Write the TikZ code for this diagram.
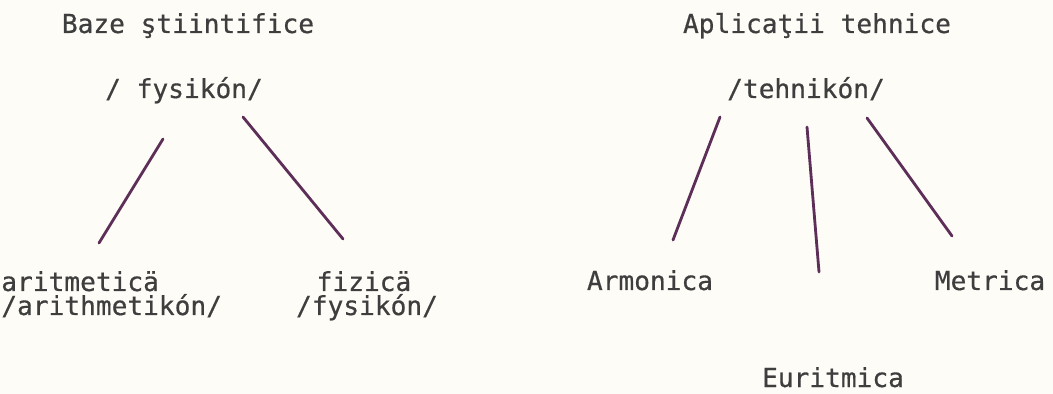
\documentclass[tikz,border=0pt]{standalone}
\usepackage{fontspec}
\usepackage{xcolor}
\usepackage{tikz}
\usetikzlibrary{positioning,calc}
\newfontfamily\typewfont[FakeBold=0.5]{DejaVu Sans Mono}
\definecolor{paper}{RGB}{253,252,247}
\definecolor{inkgray}{RGB}{62,62,62}
\definecolor{inkpurple}{RGB}{92,46,88}

\begin{document}
\begin{tikzpicture}[
    x=0.02cm, y=-0.02cm,
    word/.style={inner sep=0pt, anchor=base, text=inkgray, font=\typewfont\fontsize{14.9}{18}\selectfont},
    branch/.style={draw=inkpurple, line width=1.6pt, line cap=round},
]

% Background
\fill[paper] (0,0) rectangle (1053,394);
\useasboundingbox (0,0) rectangle (1053,394);

% Nodes
\node [word] (baze) at (188,33) {Baze ştiintifice};
\node [word] (fys) at (184,98) {/ fysikón/};
\node [word, anchor=base west] (arit) at (1,291) {aritmeticä};
\node [word, anchor=base west] (aritgr) at (1,315) {/arithmetikón/};
\node [word] (fiz) at (364,291) {fizicä};
\node [word] (fizgr) at (367,315) {/fysikón/};

\node [word] (apl) at (817,33) {Aplicaţii tehnice};
\node [word] (teh) at (806,98) {/tehnikón/};
\node [word] (arm) at (650,290) {Armonica};
\node [word] (met) at (990,290) {Metrica};
\node [word] (eur) at (833,387) {Euritmica};

% Arcs/Paths
\draw [branch] ([shift={(-21,41)}]fys.base) -- ([shift={(98,-48)}]arit.base west);
\draw [branch] ([shift={(59,19)}]fys.base) -- ([shift={(-21,-52)}]fiz.base);

\draw [branch] ([shift={(-86,19)}]teh.base) -- ([shift={(23,-50)}]arm.base);
\draw [branch] ([shift={(1,29)}]teh.base) -- ([shift={(-14,-115)}]eur.base);
\draw [branch] ([shift={(61,20)}]teh.base) -- ([shift={(-38,-54)}]met.base);

\end{tikzpicture}
\end{document}
